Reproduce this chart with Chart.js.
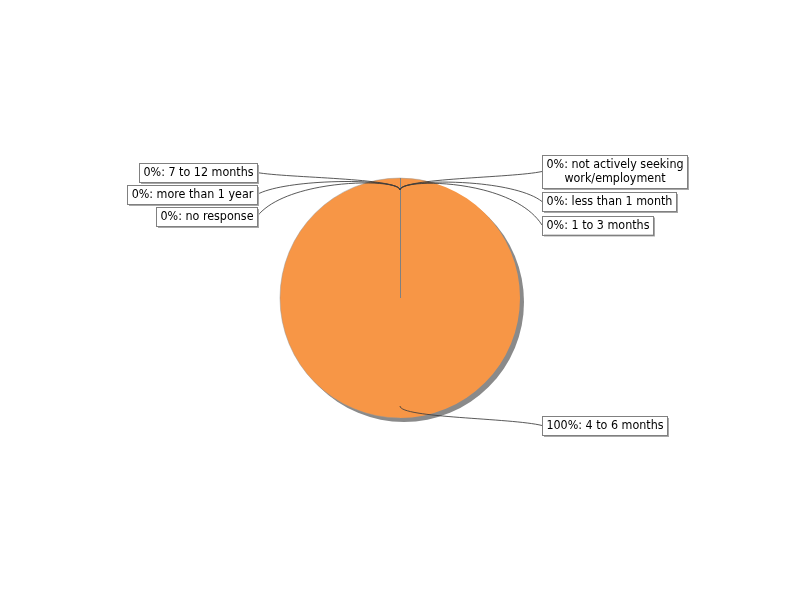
<!DOCTYPE html>
<html><head><meta charset="utf-8">
<script src="https://cdn.jsdelivr.net/npm/chart.js@4.4.0/dist/chart.umd.min.js"></script>
<style>html,body{margin:0;padding:0;background:#fff}canvas{display:block}</style>
</head><body>
<canvas id="c" width="800" height="600"></canvas>
<script>
// ---- data ----
const categories = ["not actively seeking work/employment", "less than 1 month", "1 to 3 months", "4 to 6 months", "7 to 12 months", "more than 1 year", "no response"];
const values = [0, 0, 0, 100, 0, 0, 0];
const sliceColors = ["#4F81BD", "#C0504D", "#9BBB59", "#F79646", "#8064A2", "#4BACC6", "#7F7F7F"];

// ---- label layout (positions only) ----
const labelSide = [1, 1, 1, 1, -1, -1, -1];
const labelTop = [155, 192, 215.5, 416, 163, 185, 207];
const rightEdgeX = 542, leftEdgeX = 257;

const total = values.reduce((a, b) => a + b, 0);

const shadowPlugin = {
  id: 'pieShadow',
  beforeDatasetsDraw(chart) {
    const el = chart.getDatasetMeta(0).data[0];
    const ctx = chart.ctx;
    ctx.save();
    ctx.fillStyle = '#8a8a8a';
    ctx.beginPath();
    ctx.arc(el.x + 4, el.y + 4, el.outerRadius, 0, Math.PI * 2);
    ctx.fill();
    ctx.restore();
  },
  afterDatasetsDraw(chart) {
    const el = chart.getDatasetMeta(0).data[0];
    const ctx = chart.ctx;
    ctx.save();
    ctx.strokeStyle = 'rgba(150,150,150,0.6)';
    ctx.lineWidth = 0.8;
    ctx.beginPath();
    ctx.arc(el.x, el.y, el.outerRadius, Math.PI * 0.5, Math.PI * 1.6);
    ctx.stroke();
    ctx.restore();
  }
};

function wrapText(ctx, text, maxW) {
  const words = text.split(' ');
  const lines = [];
  let cur = '';
  for (const w of words) {
    const t = cur ? cur + ' ' + w : w;
    if (cur && ctx.measureText(t).width > maxW) { lines.push(cur); cur = w; }
    else cur = t;
  }
  if (cur) lines.push(cur);
  return lines;
}

const labelPlugin = {
  id: 'pieLabels',
  afterDatasetsDraw(chart) {
    const meta = chart.getDatasetMeta(0);
    const ctx = chart.ctx;
    ctx.save();
    // radial separator line(s)
    ctx.strokeStyle = '#808080';
    ctx.lineWidth = 1;
    meta.data.forEach((el, i) => {
      if (values[i] > 0) {
        const angles = values[i] === total ? [el.startAngle] : [el.startAngle, el.endAngle];
        angles.forEach(a => {
          ctx.beginPath();
          ctx.moveTo(Math.round(el.x) + 0.5, el.y);
          ctx.lineTo(Math.round(el.x + Math.cos(a) * el.outerRadius) + 0.5, el.y + Math.sin(a) * el.outerRadius);
          ctx.stroke();
        });
      }
    });

    ctx.font = '12.4px "DejaVu Sans Condensed", "DejaVu Sans"';
    const lineH = 14;
    const boxes = meta.data.map((el, i) => {
      const pct = Math.round(values[i] / total * 100);
      const text = pct + '%: ' + categories[i];
      const lines = wrapText(ctx, text, 155);
      const tw = Math.max(...lines.map(l => ctx.measureText(l).width));
      const w = Math.round(tw + 8);
      const h = lines.length * lineH + 5;
      const side = labelSide[i];
      const x = side > 0 ? rightEdgeX : leftEdgeX - w;
      const y = labelTop[i];
      return { x, y, w, h, lines, side };
    });

    // leader lines
    ctx.strokeStyle = 'rgba(60,60,60,0.85)';
    ctx.lineWidth = 1;
    meta.data.forEach((el, i) => {
      const b = boxes[i];
      const mid = (el.startAngle + el.endAngle) / 2;
      const r = el.outerRadius;
      const ax = el.x + Math.cos(mid) * r * 0.9, ay = el.y + Math.sin(mid) * r * 0.9;
      const bx = el.x + Math.cos(mid) * r, by = el.y + Math.sin(mid) * r;
      const px = b.side > 0 ? b.x : b.x + b.w;
      const py = b.y + b.h / 2;
      ctx.beginPath();
      ctx.moveTo(ax, ay);
      ctx.bezierCurveTo(bx, by, px - b.side * 30, by, px, py);
      ctx.stroke();
    });

    // boxes
    boxes.forEach(b => {
      ctx.fillStyle = '#a8a8a8';
      ctx.fillRect(b.x + 2, b.y + 2, b.w, b.h);
      ctx.fillStyle = '#ffffff';
      ctx.fillRect(b.x, b.y, b.w, b.h);
      ctx.strokeStyle = '#808080';
      ctx.strokeRect(Math.round(b.x) + 0.5, Math.round(b.y) + 0.5, b.w, b.h);
      ctx.fillStyle = '#000';
      ctx.textAlign = 'center';
      ctx.textBaseline = 'middle';
      b.lines.forEach((l, k) => {
        ctx.fillText(l, b.x + b.w / 2 + 0.5, b.y + 3 + lineH / 2 + k * lineH);
      });
    });
    ctx.restore();
  }
};

new Chart(document.getElementById('c'), {
  type: 'pie',
  data: {
    labels: categories,
    datasets: [{
      data: values,
      backgroundColor: sliceColors,
      borderWidth: 0,
      offset: 0,
      hoverOffset: 0
    }]
  },
  options: {
    responsive: false,
    animation: false,
    events: [],
    layout: { padding: { top: 178, bottom: 182, left: 280, right: 280 } },
    plugins: { legend: { display: false }, tooltip: { enabled: false } }
  },
  plugins: [shadowPlugin, labelPlugin]
});
</script>
</body></html>
